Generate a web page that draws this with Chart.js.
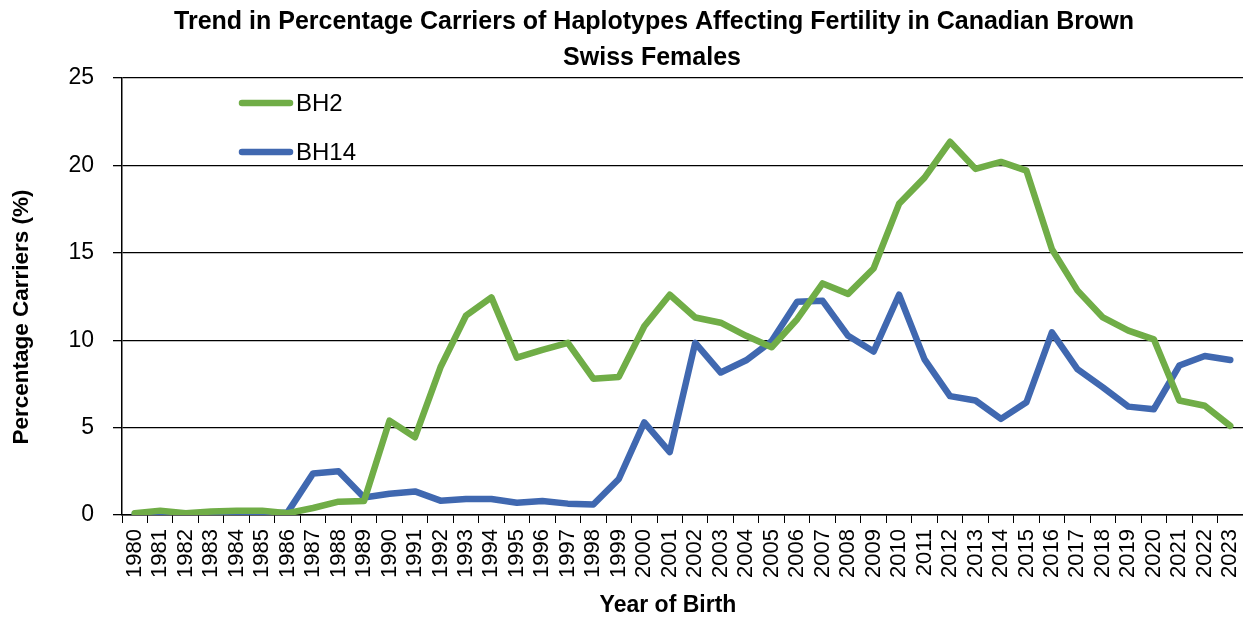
<!DOCTYPE html>
<html>
<head>
<meta charset="utf-8">
<script src="https://cdn.jsdelivr.net/npm/chart.js@4.4.1/dist/chart.umd.min.js"></script>
<style>
html,body{margin:0;padding:0;background:#fff;}
#wrap{width:1243px;height:619px;position:relative;}
</style>
</head>
<body>
<div id="wrap"><canvas id="c" width="1243" height="619"></canvas></div>
<script>
const years = ["1980","1981","1982","1983","1984","1985","1986","1987","1988","1989","1990","1991","1992","1993","1994","1995","1996","1997","1998","1999","2000","2001","2002","2003","2004","2005","2006","2007","2008","2009","2010","2011","2012","2013","2014","2015","2016","2017","2018","2019","2020","2021","2022","2023"];
const bh2 = [0.1,0.25,0.1,0.2,0.25,0.25,0.1,0.4,0.76,0.8,5.4,4.45,8.45,11.4,12.45,9.0,9.45,9.85,7.8,7.9,10.8,12.6,11.3,11.0,10.25,9.6,11.2,13.25,12.65,14.1,17.8,19.3,21.35,19.8,20.2,19.7,15.2,12.85,11.3,10.55,10.05,6.55,6.25,5.1];
const bh14 = [0.05,0.05,0.05,0.05,0.05,0.05,0.15,2.38,2.5,1.0,1.22,1.35,0.82,0.92,0.92,0.7,0.8,0.65,0.6,2.06,5.3,3.6,9.85,8.15,8.85,9.95,12.2,12.25,10.25,9.35,12.6,8.9,6.8,6.55,5.5,6.45,10.45,8.35,7.3,6.2,6.05,8.55,9.1,8.87];
const yTicks = [0,5,10,15,20,25];
const titleLines = ['Trend in Percentage Carriers of Haplotypes Affecting Fertility in Canadian Brown','Swiss Females'];
const xTitle = 'Year of Birth';
const yTitle = 'Percentage Carriers (%)';
const FONT = '"Liberation Sans", Arial, sans-serif';

const extras = {
  id:'extras',
  afterDraw(chart){
    const ctx = chart.ctx;
    const rows = [103,152];
    chart.data.datasets.forEach((ds,i)=>{
      const y = rows[i];
      ctx.save();
      ctx.strokeStyle = ds.borderColor;
      ctx.lineWidth = 6.5;
      ctx.lineCap = 'round';
      ctx.beginPath();
      ctx.moveTo(242,y); ctx.lineTo(290,y); ctx.stroke();
      ctx.fillStyle = '#000';
      ctx.font = '24px ' + FONT;
      ctx.textBaseline = 'middle';
      ctx.textAlign = 'left';
      ctx.fillText(ds.label, 296, y+1);
      ctx.restore();
    });
    ctx.save();
    ctx.fillStyle = '#000';
    ctx.textAlign = 'center';
    ctx.textBaseline = 'middle';
    // chart title
    ctx.font = 'bold 25px ' + FONT;
    ctx.fillText(titleLines[0], 654, 22);
    ctx.fillText(titleLines[1], 652, 58);
    // axis titles
    ctx.font = 'bold 23px ' + FONT;
    ctx.fillText(xTitle, 668, 606);
    ctx.translate(22, 317);
    ctx.rotate(-Math.PI/2);
    ctx.font = 'bold 22.5px ' + FONT;
    ctx.fillText(yTitle, 0, 0);
    ctx.restore();
  }
};

new Chart(document.getElementById('c'), {
  type:'line',
  data:{
    labels: years,
    datasets:[
      {label:'BH2', data:bh2, borderColor:'#70AD47', backgroundColor:'#70AD47', borderWidth:6.5, pointRadius:0, tension:0, borderCapStyle:'round', borderJoinStyle:'round'},
      {label:'BH14', data:bh14, borderColor:'#4068B0', backgroundColor:'#4068B0', borderWidth:6.5, pointRadius:0, tension:0, borderCapStyle:'round', borderJoinStyle:'round'}
    ]
  },
  options:{
    responsive:false,
    animation:false,
    layout:{padding:{left:0,right:0,top:78,bottom:0}},
    plugins:{
      legend:{display:false},
      tooltip:{enabled:false},
      title:{display:false}
    },
    scales:{
      x:{
        offset:true,
        grid:{display:true,drawOnChartArea:false,drawTicks:true,tickLength:8,offset:true,color:'#000',lineWidth:1},
        border:{display:true,color:'#000',width:1.5},
        ticks:{color:'#000',font:{family:FONT,size:22},minRotation:90,maxRotation:90,autoSkip:false,padding:6},
        title:{display:false},
        afterFit(scale){ scale.height = 104; scale.paddingLeft = 0; scale.paddingRight = 0; }
      },
      y:{
        min:0,max:25,
        afterBuildTicks(scale){ scale.ticks = yTicks.map(v=>({value:v})); },
        grid:{color:'#000',lineWidth:1.3,drawTicks:true,tickLength:9},
        border:{display:true,color:'#000',width:1.5},
        ticks:{color:'#000',font:{family:FONT,size:23},padding:19},
        title:{display:false},
        afterFit(scale){ scale.width = 122; scale.paddingTop = 0; scale.paddingBottom = 0; }
      }
    }
  },
  plugins:[extras]
});
</script>
</body>
</html>
